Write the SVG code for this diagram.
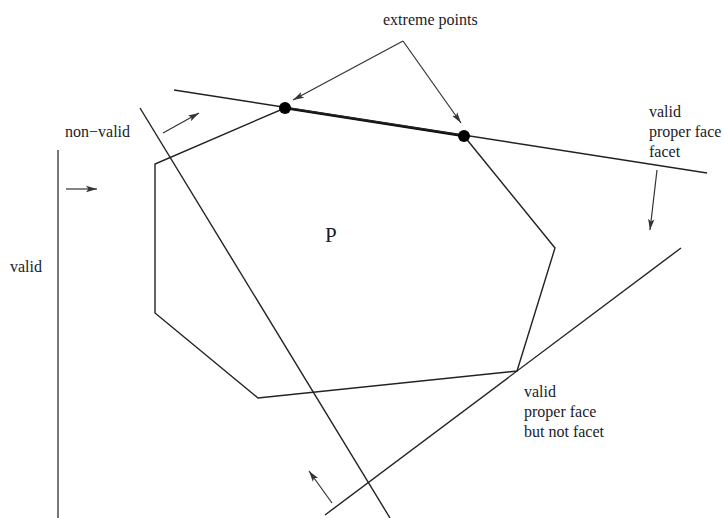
<svg xmlns="http://www.w3.org/2000/svg" width="724" height="518" viewBox="0 0 724 518">
<style>
.ln{fill:none;stroke:#222;stroke-width:1.4}
.ar{fill:none;stroke:#333;stroke-width:1.2;marker-end:url(#ah)}
text{font-family:"Liberation Serif","Times New Roman",serif;font-size:16px;fill:#1a1a2a}
</style>
<defs>
<marker id="ah" viewBox="0 0 12 8" refX="11" refY="4" markerWidth="12" markerHeight="8" markerUnits="userSpaceOnUse" orient="auto">
<path d="M0,0.8 L11,4 L0,7.2 L2.5,4 Z" fill="#333"/>
</marker>
</defs>
<rect width="724" height="518" fill="#fff"/>
<g id="polytope">
<polygon class="ln" points="285,108 464,136 555,248 517,371 258,398 155,313 155,164"/>
<line x1="285" y1="108" x2="464" y2="136" stroke="#111" stroke-width="2.6"/>
<text x="325" y="242" style="font-size:21px">P</text>
</g>
<g id="lines">
<line class="ln" x1="174" y1="90" x2="707" y2="173"/>
<line class="ln" x1="140" y1="108" x2="390" y2="518"/>
<line class="ln" x1="325" y1="515" x2="681" y2="248"/>
<line x1="58" y1="150" x2="58" y2="518" stroke="#555" stroke-width="1.6"/>
</g>
<g id="extreme-points">
<circle cx="285" cy="108" r="6" fill="#000"/>
<circle cx="464" cy="136" r="6" fill="#000"/>
<text x="383" y="25">extreme points</text>
</g>
<g id="connectors">
<line class="ar" x1="403" y1="41" x2="293" y2="100"/>
<line class="ar" x1="403" y1="41" x2="461" y2="123"/>
<line class="ar" x1="66" y1="189" x2="97" y2="189"/>
<line class="ar" x1="163" y1="133" x2="199" y2="113"/>
<line class="ar" x1="657" y1="170" x2="650" y2="230"/>
<line class="ar" x1="332" y1="503" x2="309" y2="471"/>
</g>
<g id="labels">
<text x="65" y="137">non−valid</text>
<text x="10" y="272">valid</text>
<text x="649" y="117">valid</text>
<text x="649" y="137">proper face</text>
<text x="649" y="157">facet</text>
<text x="524" y="397">valid</text>
<text x="524" y="417">proper face</text>
<text x="524" y="437">but not facet</text>
</g>
</svg>
